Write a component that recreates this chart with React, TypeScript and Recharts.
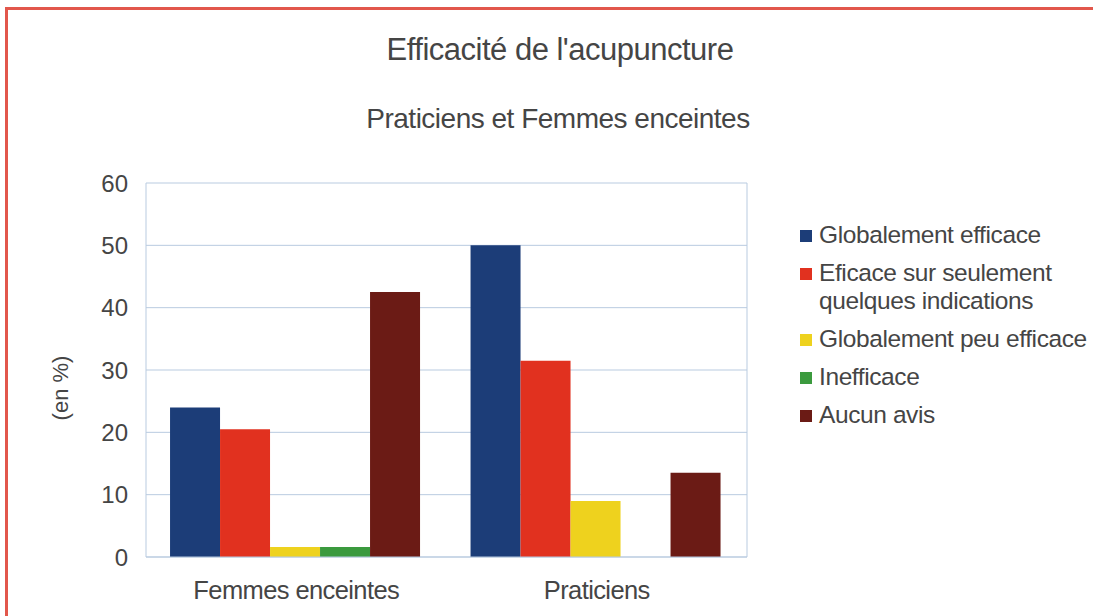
import { Bar, BarChart, CartesianGrid, XAxis, YAxis } from "recharts";

// Efficacité de l'acupuncture — avis des praticiens et des femmes enceintes

const categories = ["Femmes enceintes", "Praticiens"];

const globalementEfficace = [24, 50];
const efficaceQuelques = [20.5, 31.5];
const peuEfficace = [1.6, 9];
const inefficace = [1.6, 0];
const aucunAvis = [42.5, 13.5];

const seriesNames = [
  "Globalement efficace",
  "Eficace sur seulement quelques indications",
  "Globalement peu efficace",
  "Inefficace",
  "Aucun avis",
];

const yTicks = [0, 10, 20, 30, 40, 50, 60];

const COLORS = ["#1c3d78", "#e1311f", "#eed21e", "#3b9a3e", "#6b1b15"];
const FONT = '"Liberation Sans", Arial, sans-serif';
const TEXT = "#454545";
const GRID = "#b9cbe0";

const data = categories.map((name, i) => ({
  name,
  s0: globalementEfficace[i],
  s1: efficaceQuelques[i],
  s2: peuEfficace[i],
  s3: inefficace[i],
  s4: aucunAvis[i],
}));

export default function App() {
  return (
    <div
      style={{
        position: "absolute",
        left: 0,
        top: 0,
        width: 1093,
        height: 616,
        overflow: "hidden",
        background: "#fff",
        fontFamily: FONT,
        color: TEXT,
      }}
    >
      {/* red frame, cut by the picture on the right and bottom */}
      <div
        style={{
          position: "absolute",
          left: 5,
          top: 7,
          width: 1200,
          height: 700,
          borderTop: "3px solid #e2574c",
          borderLeft: "3px solid #e2574c",
        }}
      />
      <div
        style={{
          position: "absolute",
          left: 0,
          width: 1120,
          top: 32,
          textAlign: "center",
          fontSize: 31,
          letterSpacing: -0.5,
        }}
      >
        Efficacité de l'acupuncture
      </div>
      <div
        style={{
          position: "absolute",
          left: 0,
          width: 1116,
          top: 103,
          textAlign: "center",
          fontSize: 28,
          letterSpacing: -0.5,
        }}
      >
        Praticiens et Femmes enceintes
      </div>
      <div
        style={{
          position: "absolute",
          left: 61,
          top: 388,
          transform: "translate(-50%, -50%) rotate(-90deg)",
          fontSize: 22,
          whiteSpace: "nowrap",
        }}
      >
        (en %)
      </div>

      <div style={{ position: "absolute", left: 0, top: 0 }}>
        <BarChart
          width={1093}
          height={616}
          data={data}
          margin={{ top: 183, right: 346, bottom: 9, left: 86 }}
          barGap={0}
          barCategoryGap="8%"
        >
          <CartesianGrid
            stroke={GRID}
            verticalCoordinatesGenerator={({ offset }: any) => [
              offset.left,
              offset.left + offset.width,
            ]}
          />
          <XAxis
            dataKey="name"
            height={50}
            axisLine={{ stroke: GRID }}
            tickLine={false}
            tickMargin={18}
            tick={{ fill: TEXT, fontSize: 25.5, fontFamily: FONT, letterSpacing: -0.6 }}
          />
          <YAxis
            width={60}
            domain={[0, 60]}
            ticks={yTicks}
            axisLine={false}
            tickLine={false}
            tickMargin={12}
            tick={{ fill: TEXT, fontSize: 24, fontFamily: FONT }}
          />
          {seriesNames.map((n, i) => (
            <Bar
              key={n}
              dataKey={`s${i}`}
              name={n}
              fill={COLORS[i]}
              isAnimationActive={false}
            />
          ))}
        </BarChart>
      </div>

      <div
        style={{
          position: "absolute",
          left: 800,
          top: 221,
          width: 295,
          fontSize: 24.5,
          letterSpacing: -0.4,
          lineHeight: "28px",
        }}
      >
        {seriesNames.map((n, i) => (
          <div
            key={n}
            style={{ display: "flex", alignItems: "flex-start", marginBottom: 10 }}
          >
            <span
              style={{
                width: 12,
                height: 12,
                marginTop: 9,
                marginRight: 7,
                flex: "none",
                background: COLORS[i],
              }}
            />
            <span>{n}</span>
          </div>
        ))}
      </div>
    </div>
  );
}
